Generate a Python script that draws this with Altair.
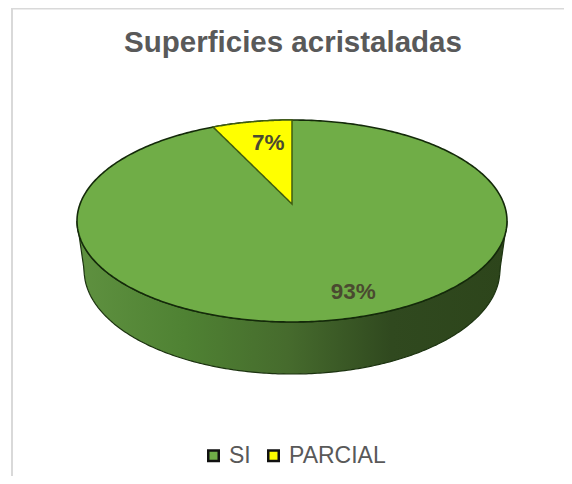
import numpy as np
import pandas as pd
import altair as alt

TITLE = "Superficies acristaladas"
categories = ["SI", "PARCIAL"]
shares = [93, 7]
colors = ["#70AD47", "#FFFF00"]
labels = ["93%", "7%"]
label_x = [0.285, -0.11]
label_y = [-0.70, 0.77]
wedge_left_x = -0.367     # where the wedge's left edge meets the rim
wedge_tip_y = 0.168       # wedge apex, foreshortened above the ellipse centre
bottom_rx = 0.967         # base of the cake, slightly narrower (perspective)
bottom_cy = -0.485
bottom_ry = 1.03

W, H, TOP = 556, 418, 50
CX, CY, RX, RY = 284, 213 - TOP, 215, 101
xscale = alt.Scale(domain=[-CX / RX, (W - CX) / RX], nice=False, zero=False)
yscale = alt.Scale(domain=[(CY - H) / RY, CY / RY], nice=False, zero=False)
X = alt.X("x:Q", scale=xscale, axis=None)
Y = alt.Y("y:Q", scale=yscale, axis=None)

t = np.linspace(0, np.pi, 241)
u = -np.cos(t)
upper = np.sin(t)

top_df = pd.DataFrame({"x": u, "y": upper, "y2": -upper, "cat": categories[0]})

us = u
rim = -upper
base = bottom_cy - bottom_ry * np.sqrt(np.clip(1 - (us / bottom_rx) ** 2, 0, 1))
out = np.abs(us) > bottom_rx
base[out] = bottom_cy * (1 - np.abs(us[out])) / (1 - bottom_rx)
side_df = pd.DataFrame({"x": us, "y": rim, "y2": base})

wu = np.linspace(wedge_left_x, 0, 60)
wedge_df = pd.DataFrame({
    "x": wu,
    "y": np.sqrt(1 - wu ** 2),
    "y2": wedge_tip_y + (np.sqrt(1 - wedge_left_x ** 2) - wedge_tip_y) * (wu / wedge_left_x),
    "cat": categories[1],
})

color = alt.Color(
    "cat:N",
    scale=alt.Scale(domain=categories, range=colors),
    legend=alt.Legend(
        title=None, orient="none", legendX=194, legendY=386, direction="horizontal",
        symbolType="square", symbolSize=110, symbolStrokeColor="#111111",
        symbolStrokeWidth=2.5, symbolOpacity=1, labelFont="Liberation Sans",
        labelFontSize=23, labelColor="#595959", columnPadding=11, labelOffset=4,
    ),
)

side = alt.Chart(side_df).mark_area(
    stroke="#1c3310", strokeWidth=1.2,
    color=alt.Gradient(
        gradient="linear", x1=0, x2=1, y1=0, y2=0,
        stops=[
            alt.GradientStop(color="#5f9140", offset=0),
            alt.GradientStop(color="#4f8233", offset=0.25),
            alt.GradientStop(color="#466b2d", offset=0.49),
            alt.GradientStop(color="#30491f", offset=0.73),
            alt.GradientStop(color="#2d451b", offset=1),
        ],
    ),
).encode(x=X, y=Y, y2="y2:Q")

top = alt.Chart(top_df).mark_area(stroke="#142a0a", strokeWidth=1.6).encode(
    x=X, y=Y, y2="y2:Q", color=color
)
wedge = alt.Chart(wedge_df).mark_area(stroke="#3f5c10", strokeWidth=1.5).encode(
    x=X, y=Y, y2="y2:Q", color=color
)
text = alt.Chart(pd.DataFrame({"x": label_x, "y": label_y, "t": labels})).mark_text(
    font="Liberation Sans", fontSize=22.5, fontWeight="bold", color="#4a4a30"
).encode(x=X, y=Y, text="t:N")

frame_left = alt.Chart(pd.DataFrame({"a": [0]})).mark_rule(color="#d9d9d9", strokeWidth=2).encode(
    x=alt.value(4), y=alt.value(-TOP), y2=alt.value(H)
)
frame_top = alt.Chart(pd.DataFrame({"a": [0]})).mark_rule(color="#d9d9d9", strokeWidth=2).encode(
    x=alt.value(4), x2=alt.value(W), y=alt.value(-TOP + 0.5)
)
title = alt.Chart(pd.DataFrame({"t": [TITLE]})).mark_text(
    font="Liberation Sans", fontSize=29.5, fontWeight="bold", color="#595959",
    baseline="alphabetic", align="center",
).encode(x=alt.value(285), y=alt.value(-6), text="t:N")

chart = (
    alt.layer(frame_left, frame_top, side, top, wedge, text, title)
    .properties(
        width=W, height=H,
        padding={"left": 0, "top": TOP, "right": 0, "bottom": 0},
        autosize=alt.AutoSizeParams(type="none"),
        background="white",
    )
    .configure_view(stroke=None)
)
chart.save("out.html", embed_options={"renderer": "svg", "actions": False})
